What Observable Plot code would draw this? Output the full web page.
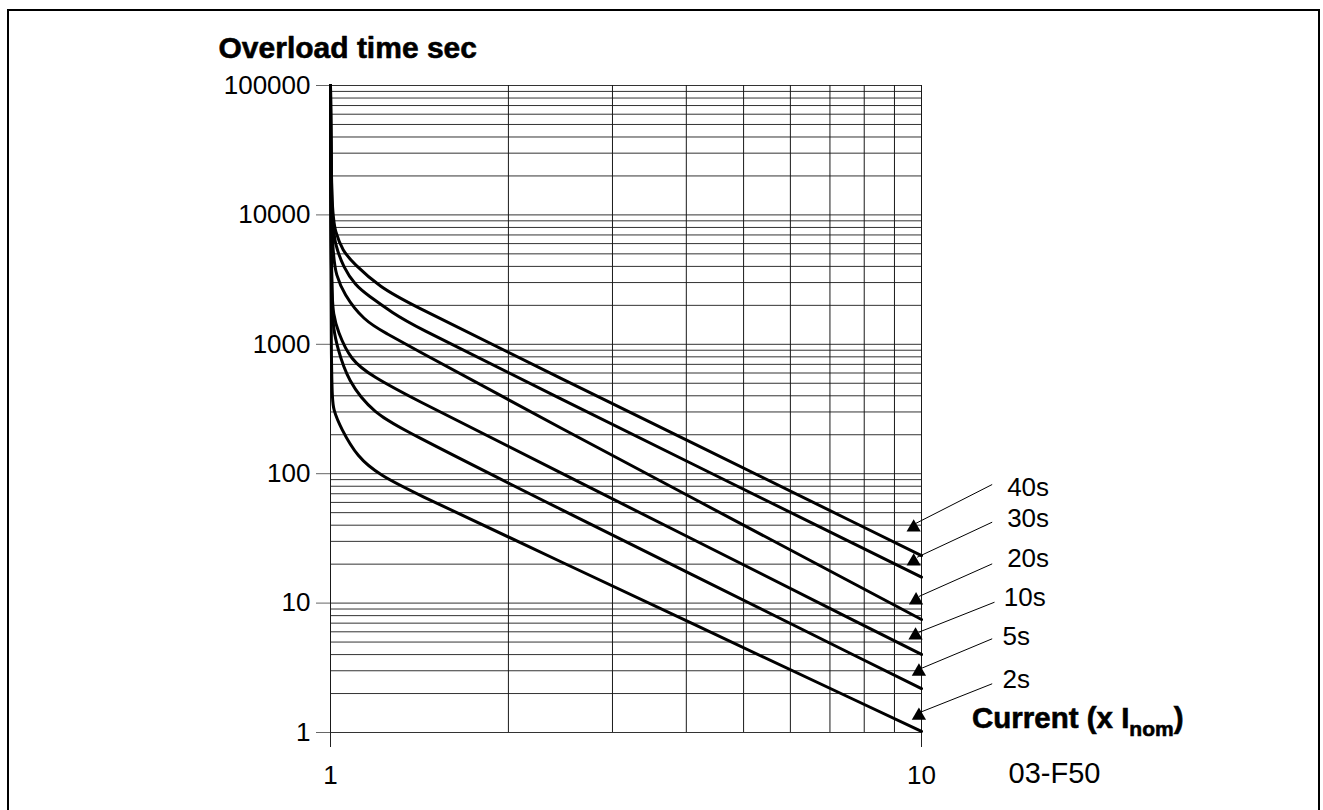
<!DOCTYPE html>
<html>
<head>
<meta charset="utf-8">
<script src="https://cdn.jsdelivr.net/npm/d3@7"></script>
<script src="https://cdn.jsdelivr.net/npm/@observablehq/plot@0.6"></script>
<style>
html, body { margin: 0; padding: 0; background: #fff; overflow: hidden; }
#frame { position: absolute; left: 7px; top: 9px; width: 1313px; height: 840px; border: 2.5px solid #000; box-sizing: border-box; }
#chart { position: absolute; left: 0; top: 0; }
</style>
</head>
<body>
<div id="frame"></div>
<div id="chart"></div>
<script>
// ---- data (current in x I_nom, overload time in s) ----
const curveNames = ["2s", "5s", "10s", "20s", "30s", "40s"];
const current2s  = [1, 1.002, 1.0118, 1.0397, 1.111, 1.215, 1.382, 2, 10];
const time2s     = [100000, 417, 308, 228, 133, 97, 71.6, 32.4, 1.02];
const current5s  = [1, 1.0039, 1.0118, 1.0277, 1.0685, 1.1822, 1.3659, 2, 10];
const time5s     = [100000, 2180, 1280, 945, 525, 292, 205, 84.0, 2.18];
const current10s = [1, 1.002, 1.0118, 1.0277, 1.081, 1.1822, 1.3659, 2, 10];
const time10s    = [100000, 2605, 1670, 1278, 750, 560, 390, 162.3, 4.01];
const current20s = [1, 1.0039, 1.0236, 1.0519, 1.1372, 1.2487, 1.35, 2, 10];
const time20s    = [100000, 5030, 3400, 2470, 1527, 1200, 985, 368, 7.47];
const current30s = [1, 1.0039, 1.0197, 1.0519, 1.1022, 1.155, 1.2785, 1.382, 2, 10];
const time30s    = [100000, 8735, 5800, 3922, 2847, 2400, 1730, 1397, 600, 15.86];
const current40s = [1, 1.0039, 1.0197, 1.0479, 1.0937, 1.215, 1.35, 2, 10];
const time40s    = [100000, 10430, 7311, 5307, 4210, 2748, 2100, 864, 23.3];
const curveCurrents = [current2s, current5s, current10s, current20s, current30s, current40s];
const curveTimes = [time2s, time5s, time10s, time20s, time30s, time40s];

const yTicks = [1, 10, 100, 1000, 10000, 100000];
const xTicks = [1, 10];
const xGrid = [1, 2, 3, 4, 5, 6, 7, 8, 9, 10];

// annotation (curve labels with leader arrows), in data units
const arrowLabels = ["40s", "30s", "20s", "10s", "5s", "2s"];
const markerX  = [9.70, 9.70, 9.79, 9.77, 9.90, 9.90];
const markerY  = [38.4, 21.0, 10.5, 5.62, 2.96, 1.35];
const leaderX1 = [9.77, 9.83, 9.90, 9.90, 9.96, 9.96];
const leaderY1 = [41.2, 22.6, 11.25, 5.96, 3.11, 1.435];
const leaderX2 = [13.17, 13.17, 13.17, 13.29, 13.17, 13.17];
const leaderY2 = [82.5, 42.2, 20.1, 10.16, 5.30, 2.38];
const labelX   = [13.96, 13.96, 13.96, 13.78, 13.71, 13.71];
const labelY   = [78.2, 44.8, 22.0, 11.1, 5.52, 2.57];

const titleText = "Overload time sec";
const codeText = "03-F50";

// ---- build tables ----
const rows = [];
curveNames.forEach((name, i) => {
  curveCurrents[i].forEach((x, j) => rows.push({curve: name, current: x, time: curveTimes[i][j]}));
});
const yGrid = [];
for (let k = 0; k < 5; k++) for (let m = 1; m <= 9; m++) yGrid.push(m * Math.pow(10, k));
yGrid.push(100000);
const ann = arrowLabels.map((t, i) => ({
  label: t, mx: markerX[i], my: markerY[i],
  x1: leaderX1[i], y1: leaderY1[i], x2: leaderX2[i], y2: leaderY2[i],
  lx: labelX[i], ly: labelY[i]
}));

const regular = "'Liberation Sans', Arial, sans-serif";
const bold = "'Liberation Sans', Arial, sans-serif";

const chart = Plot.plot({
  width: 1323,
  height: 810,
  marginLeft: 330,
  marginRight: 402,
  marginTop: 85,
  marginBottom: 78,
  x: {type: "log", domain: [1, 10]},
  y: {type: "log", domain: [1, 100000]},
  style: {fontFamily: regular, fontSize: "26px", background: "transparent", overflow: "visible", color: "black"},
  marks: [
    Plot.ruleY(yGrid, {stroke: "#333", strokeWidth: 1}),
    Plot.ruleX(xGrid, {stroke: "#1a1a1a", strokeWidth: 1}),
    Plot.axisY({ticks: yTicks, tickSize: 14, tickPadding: 6, tickFormat: d => String(d), stroke: "#666", fill: "black", label: null, fontSize: 26, fontFamily: regular}),
    Plot.axisX({ticks: xTicks, tickSize: 15, tickPadding: 18, tickFormat: d => String(d), stroke: "#222", fill: "black", label: null, fontSize: 26, fontFamily: regular}),
    Plot.line(rows, {x: "current", y: "time", z: "curve", stroke: "black", strokeWidth: 3, curve: "basis"}),
    Plot.link(ann, {x1: "x1", y1: "y1", x2: "x2", y2: "y2", stroke: "black", strokeWidth: 1}),
    Plot.dot(ann, {x: "mx", y: "my", symbol: "triangle", r: 5.3, fill: "black", stroke: null}),
    Plot.text(ann, {x: "lx", y: "ly", text: "label", textAnchor: "start", lineAnchor: "middle", fontSize: 26, fontFamily: regular, fill: "black"}),
    Plot.text([titleText], {frameAnchor: "top-left", dx: -112, dy: -28, text: d => d, textAnchor: "start", lineAnchor: "bottom", fontWeight: "bold", fontSize: 30, fontFamily: bold, fill: "black", stroke: "black", strokeWidth: 0.6}),
    Plot.text([codeText], {frameAnchor: "bottom-right", dx: 87, dy: 41, text: d => d, textAnchor: "start", lineAnchor: "middle", fontSize: 29, fontFamily: regular, fill: "black"})
  ]
});

document.getElementById("chart").appendChild(chart);

// x-axis title with subscript, placed from the x/y scales
const sx = chart.scale("x").apply(10);
const sy = chart.scale("y").apply(1);
const t = d3.select(chart).append("text")
  .attr("x", sx + 51).attr("y", sy - 4)
  .attr("text-anchor", "start")
  .attr("font-family", bold).attr("font-weight", "bold")
  .attr("font-size", 29.5).attr("fill", "black")
  .attr("stroke", "black").attr("stroke-width", 0.6);
t.append("tspan").text("Current (x I");
t.append("tspan").attr("font-size", 21).attr("dy", 8).text("nom");
t.append("tspan").attr("dy", -8).text(")");
</script>
</body>
</html>
